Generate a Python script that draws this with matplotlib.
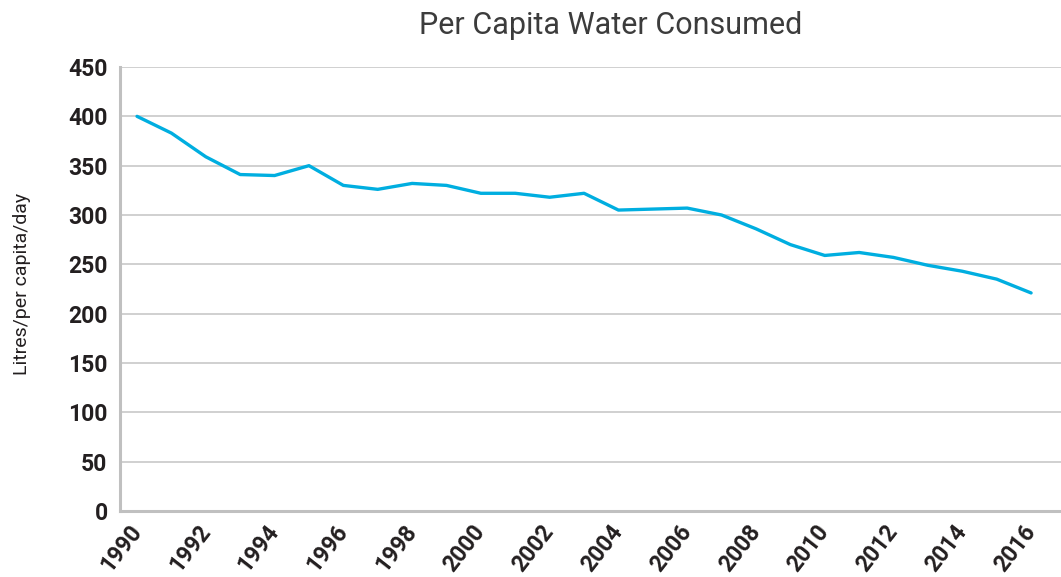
import matplotlib
matplotlib.use("Agg")
import matplotlib.pyplot as plt

years = list(range(1990, 2017))
litres = [400, 383, 359, 341, 340, 350, 330, 326, 332, 330, 322, 322, 318, 322,
          305, 306, 307, 300, 286, 270, 259, 262, 257, 249, 243, 235, 221]
tick_years = list(range(1990, 2017, 2))
y_ticks = list(range(0, 451, 50))

plt.rcParams['font.family'] = ['Roboto', 'DejaVu Sans']

fig = plt.figure(figsize=(10.61, 5.77), dpi=100)
ax = fig.add_axes([120 / 1061, 1 - 511 / 577, 1 - 120 / 1061, (511 - 67) / 577])

ax.plot(years, litres, color="#00aee0", lw=2.4, solid_capstyle="round")

ax.set_xlim(1989.505, 2016.87)
ax.set_ylim(0, 450)
ax.set_yticks(y_ticks)
ax.set_xticks(tick_years)
ax.set_xticklabels([str(y) for y in tick_years], rotation=52, ha="right",
                   va="center", rotation_mode="anchor")
ax.tick_params(axis="both", length=0, labelsize=16.5, colors="#231f20")
ax.tick_params(axis="x", pad=12)
ax.tick_params(axis="y", pad=9)
for lab in ax.get_xticklabels() + ax.get_yticklabels():
    lab.set_fontweight("bold")

ax.grid(axis="y", color="#c8c8c8", lw=1.2)
ax.set_axisbelow(True)
for s in ["top", "right"]:
    ax.spines[s].set_visible(False)
for s in ["left", "bottom"]:
    ax.spines[s].set_color("#c0c0c0")
    ax.spines[s].set_linewidth(2.2)

fig.text(611 / 1061, 1 - 26 / 577, "Per Capita Water Consumed", ha="center",
         va="center", fontsize=22, color="#3c3c3c")
fig.text(22 / 1061, 1 - 284 / 577, "Litres/per capita/day", ha="center",
         va="center", rotation=90, fontsize=14, color="#231f20")

fig.savefig("out.png", dpi=100)
